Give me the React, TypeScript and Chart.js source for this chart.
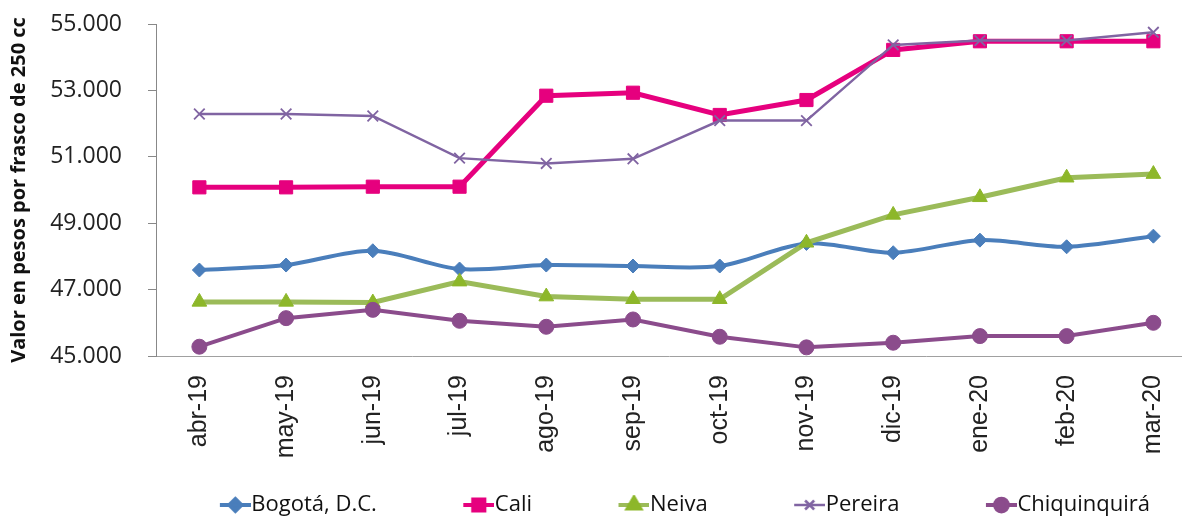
import { useEffect, useRef } from 'react';
import { Chart, registerables } from 'chart.js';
import { drawPoint } from 'chart.js/helpers';

Chart.register(...registerables);

const months = ['abr-19', 'may-19', 'jun-19', 'jul-19', 'ago-19', 'sep-19', 'oct-19', 'nov-19', 'dic-19', 'ene-20', 'feb-20', 'mar-20'];
const seriesNames = ['Bogotá, D.C.', 'Cali', 'Neiva', 'Pereira', 'Chiquinquirá'];
const bogota = [47590, 47740, 48170, 47620, 47740, 47710, 47710, 48390, 48110, 48490, 48290, 48610];
const cali = [50080, 50080, 50100, 50100, 52840, 52930, 52260, 52710, 54220, 54480, 54480, 54480];
const neiva = [46630, 46630, 46610, 47240, 46790, 46710, 46710, 48410, 49250, 49780, 50370, 50480];
const pereira = [52290, 52290, 52230, 50960, 50800, 50940, 52090, 52090, 54370, 54500, 54500, 54750];
const chiquinquira = [45280, 46140, 46390, 46060, 45880, 46100, 45580, 45260, 45400, 45600, 45600, 46000];
const yMin = 45000;
const yMax = 55000;
const yStep = 2000;
const yTitle = 'Valor en pesos por frasco de 250 cc';

const seriesValues = [bogota, cali, neiva, pereira, chiquinquira];
const lineColors = ['#4A7EBB', '#E6007E', '#9BBB59', '#8064A2', '#8B4C8C'];
const pointColors = ['#4A7EBB', '#E6007E', '#8DB72A', '#8064A2', '#8B4C8C'];
const pointStyles = ['rectRot', 'rect', 'triangle', 'crossRot', 'circle'];
const pointRadii = [7, 9.3, 8.5, 7.5, 7.5];
const lineWidths = [4, 5, 5, 2.5, 4];
const tensions = [0.3, 0, 0, 0, 0];

const fmt = (v: number) => String(v).replace(/\B(?=(\d{3})+(?!\d))/g, '.');

function legendImage(i: number): HTMLCanvasElement {
  const c = document.createElement('canvas');
  c.width = 96;
  c.height = 20;
  const ctx = c.getContext('2d')!;
  ctx.strokeStyle = lineColors[i];
  ctx.lineWidth = Math.min(lineWidths[i], 4);
  ctx.beginPath();
  ctx.moveTo(65, 10);
  ctx.lineTo(96, 10);
  ctx.stroke();
  ctx.fillStyle = pointColors[i];
  ctx.strokeStyle = pointColors[i];
  drawPoint(ctx, { pointStyle: pointStyles[i], radius: pointRadii[i] * 0.85, rotation: 0, borderWidth: i === 3 ? 1.5 : 1 } as any, 80.5, 10);
  return c;
}

export default function App() {
  const ref = useRef<HTMLCanvasElement>(null);
  useEffect(() => {
    if (!ref.current) return;
    const images = seriesNames.map((_, i) => legendImage(i));
    const chart = new Chart(ref.current, {
      type: 'line',
      data: {
        datasets: seriesNames.map((name, i) => ({
          label: name,
          data: seriesValues[i].map((y, x) => ({ x, y })),
          borderColor: lineColors[i],
          backgroundColor: pointColors[i],
          pointBackgroundColor: pointColors[i],
          pointBorderColor: pointColors[i],
          pointStyle: pointStyles[i] as any,
          pointRadius: pointRadii[i],
          pointBorderWidth: i === 3 ? 1.8 : 1,
          borderWidth: lineWidths[i],
          tension: tensions[i],
          order: seriesNames.length - i,
          clip: false as any,
        })),
      },
      options: {
        animation: false,
        responsive: true,
        maintainAspectRatio: false,
        layout: { autoPadding: false, padding: { top: 24, left: 0, right: 0, bottom: 0 } },
        plugins: {
          tooltip: { enabled: false },
          legend: {
            position: 'bottom',
            align: 'end',
            maxHeight: 55,
            labels: {
              usePointStyle: true,
              pointStyleWidth: 75,
              padding: 32,
              color: '#111',
              font: { family: 'Open Sans', size: 22 },
              generateLabels: () =>
                seriesNames.map((name, i) => ({
                  text: name,
                  pointStyle: images[i] as any,
                  fillStyle: pointColors[i],
                  strokeStyle: lineColors[i],
                  lineWidth: 0,
                  hidden: false,
                  datasetIndex: i,
                  fontColor: '#111',
                })),
            },
          },
        },
        scales: {
          x: {
            type: 'linear',
            min: -0.5,
            max: 11.33,
            afterBuildTicks: (scale: any) => {
              scale.ticks = months.map((_, i) => ({ value: i }));
            },
            afterFit: (scale: any) => {
              scale.height = 106;
              scale.paddingLeft = 0;
              scale.paddingRight = 0;
            },
            grid: { display: false, drawTicks: true, tickLength: 19 },
            border: { display: true, color: '#A0A0A0', width: 1 },
            ticks: {
              autoSkip: false,
              minRotation: 90,
              maxRotation: 90,
              padding: 0,
              color: '#222',
              font: { family: 'Liberation Sans', size: 25 },
              callback: (v: any) => months[v as number] ?? '',
            },
          },
          y: {
            min: yMin,
            max: yMax,
            afterFit: (scale: any) => {
              scale.width = 156;
              scale.paddingTop = 0;
              scale.paddingBottom = 0;
            },
            grid: { display: true, drawOnChartArea: false, drawTicks: true, tickLength: 8, color: '#888' },
            border: { display: true, color: '#888', width: 1 },
            ticks: {
              stepSize: yStep,
              padding: 26,
              color: '#222',
              font: { family: 'Open Sans', size: 23 },
              callback: (v: any) => fmt(v as number),
            },
            title: {
              display: true,
              text: yTitle,
              color: '#111',
              font: { family: 'Open Sans', size: 20, weight: 'bold' },
              padding: { top: 7, bottom: 0 },
            },
          },
        },
      },
    });
    return () => chart.destroy();
  }, []);
  return (
    <div style={{ position: 'fixed', left: 0, top: 0, width: 1182, height: 517, background: '#fff' }}>
      <canvas ref={ref} />
    </div>
  );
}
